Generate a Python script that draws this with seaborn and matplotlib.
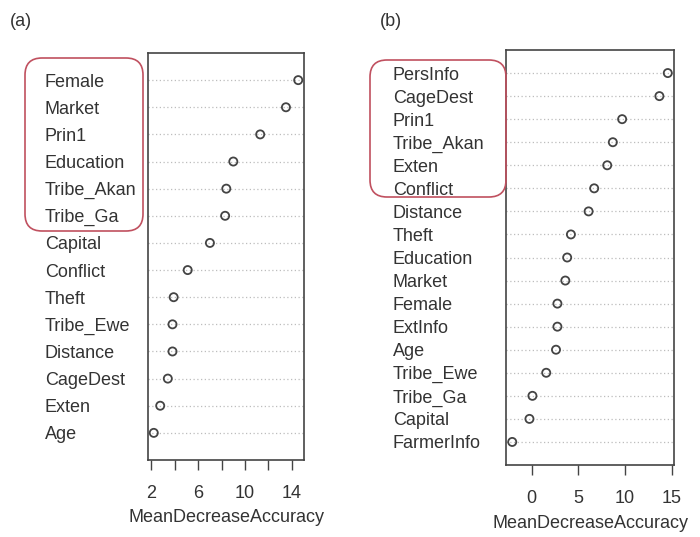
import matplotlib
matplotlib.use("Agg")
import matplotlib.pyplot as plt
from matplotlib.patches import FancyBboxPatch
import seaborn as sns
import pandas as pd

# Variable importance, model (a)
vars_a = ["Female", "Market", "Prin1", "Education", "Tribe_Akan", "Tribe_Ga",
          "Capital", "Conflict", "Theft", "Tribe_Ewe", "Distance", "CageDest",
          "Exten", "Age"]
mda_a = [14.55, 13.5, 11.3, 9.0, 8.4, 8.3, 7.0, 5.1, 3.9, 3.8, 3.8, 3.4, 2.75, 2.2]

# Variable importance, model (b)
vars_b = ["PersInfo", "CageDest", "Prin1", "Tribe_Akan", "Exten", "Conflict",
          "Distance", "Theft", "Education", "Market", "Female", "ExtInfo", "Age",
          "Tribe_Ewe", "Tribe_Ga", "Capital", "FarmerInfo"]
mda_b = [14.6, 13.7, 9.7, 8.7, 8.1, 6.7, 6.1, 4.2, 3.8, 3.6, 2.75, 2.75, 2.6,
         1.55, 0.07, -0.25, -2.1]

ticks_a = [2, 4, 6, 8, 10, 12, 14]
ticklabels_a = ["2", "", "6", "", "10", "", "14"]
ticks_b = [0, 5, 10, 15]
ticklabels_b = ["0", "5", "10", "15"]

sns.set_theme(style="white")
plt.rcParams["font.family"] = ["Liberation Sans", "DejaVu Sans"]

TXT = "#333333"
EDGE = "#444444"
W, H = 700, 537

fig = plt.figure(figsize=(7, 5.37), dpi=100)


def px_axes(left, top, right, bottom):
    return fig.add_axes([left / W, (H - bottom) / H, (right - left) / W, (bottom - top) / H])


def dotchart(ax, names, values, ticks, ticklabels, label_left_px, axis_left_px, xlabel_pad):
    n = len(names)
    df = pd.DataFrame({"var": names, "mda": values, "pos": range(n)})
    lo, hi = min(values), max(values)
    span = hi - lo
    ax.set_xlim(lo - 0.04 * span, hi + 0.04 * span)
    ax.set_ylim(n, -1)
    for p in df["pos"]:
        ax.axhline(p, color="#bdbdbd", lw=0.9, ls=(0, (1, 2)), zorder=1)
    sns.scatterplot(data=df, x="mda", y="pos", ax=ax, marker="o", s=34,
                    facecolor="none", edgecolor=EDGE, linewidth=1.3, zorder=3,
                    legend=False)
    ax.set_yticks(df["pos"])
    ax.set_yticklabels(names, ha="left", color=TXT, fontsize=13)
    pad_pt = (axis_left_px - label_left_px) * 72 / 100
    ax.tick_params(axis="y", length=0, pad=pad_pt)
    ax.set_xticks(ticks)
    ax.set_xticklabels(ticklabels, color=TXT, fontsize=13)
    ax.tick_params(axis="x", bottom=True, length=7, width=1.0, color=EDGE, pad=11)
    ax.set_xlabel("MeanDecreaseAccuracy", color=TXT, fontsize=13, labelpad=xlabel_pad)
    ax.set_ylabel("")
    for s in ax.spines.values():
        s.set_visible(True)
        s.set_color(EDGE)
        s.set_linewidth(1.2)


ax_a = px_axes(148, 53, 304, 460)
dotchart(ax_a, vars_a, mda_a, ticks_a, ticklabels_a, 45, 148, 5)

ax_b = px_axes(506, 50, 674, 465)
dotchart(ax_b, vars_b, mda_b, ticks_b, ticklabels_b, 393, 506, 6)

fig.text(10 / W, 1 - 22 / H, "(a)", fontsize=13, color=TXT, va="center", ha="left")
fig.text(380 / W, 1 - 22 / H, "(b)", fontsize=13, color=TXT, va="center", ha="left")

# Rounded frames around the top-ranked groups (pixel/inch space)
for (x0, y0, x1, y1) in [(25, 58, 143, 231), (370, 60, 506, 197)]:
    box = FancyBboxPatch((x0 / 100, (H - y1) / 100), (x1 - x0) / 100, (y1 - y0) / 100,
                         boxstyle="round,pad=0,rounding_size=0.17",
                         transform=fig.dpi_scale_trans, fill=False,
                         edgecolor="#c0505f", linewidth=1.2, zorder=5)
    fig.add_artist(box)

fig.savefig("out.png", dpi=100)
